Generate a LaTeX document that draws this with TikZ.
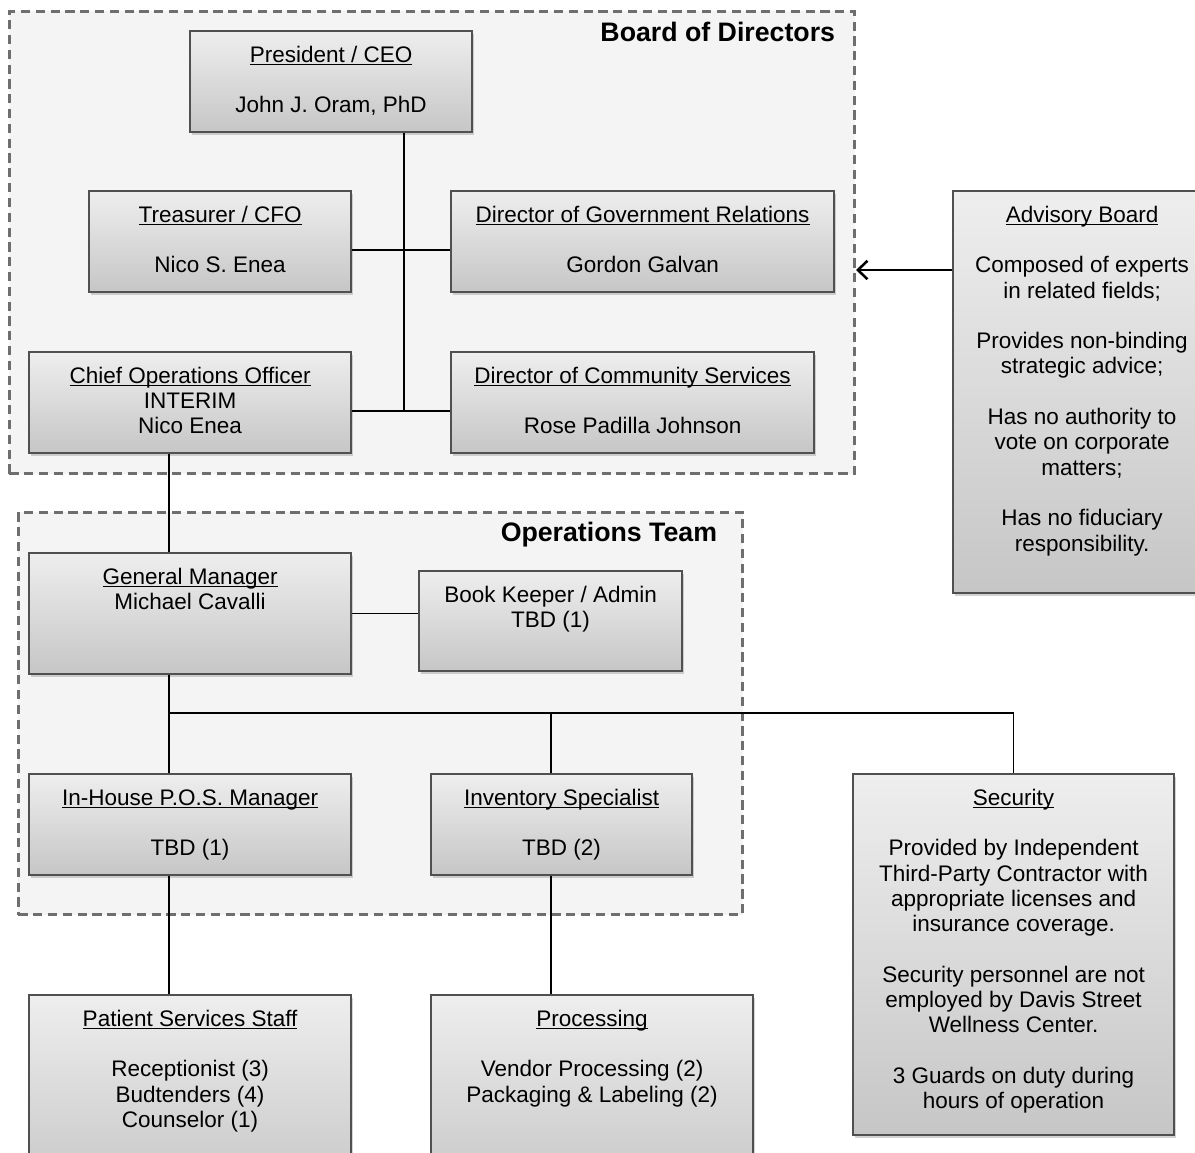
\documentclass[tikz,border=0pt]{standalone}
\usepackage{fontspec}
\setmainfont{Liberation Sans}
\usetikzlibrary{shadows,arrows.meta}

\definecolor{framefill}{HTML}{F4F4F4}
\definecolor{framedash}{HTML}{6E6E6E}
\definecolor{unitline}{HTML}{505050}
\definecolor{unittop}{HTML}{EEEEEE}
\definecolor{unitbottom}{HTML}{C6C6C6}

\newlength\unitpx
\setlength\unitpx{0.25mm}

\newsavebox\titlebox
\newcommand{\orgtitle}[1]{\sbox\titlebox{#1}\rlap{\rule[-2.2pt]{\wd\titlebox}{0.8pt}}\usebox\titlebox}
% box width, box height (in px), then the lines
\newcommand{\orgbox}[3]{\parbox[c][#2\unitpx][t]{#1\unitpx}{\centering\rule{0pt}{31\unitpx}#3}}
\newcommand{\skipline}{\\[\baselineskip]}

\begin{document}
\begin{tikzpicture}[x=0.025cm,y=-0.025cm,
    unit/.style={draw=unitline,line width=1.5pt,top color=unittop,bottom color=unitbottom,
      inner sep=0pt,anchor=north west,font=\fontsize{16}{18}\selectfont,
      drop shadow={shadow xshift=0.5mm,shadow yshift=-0.8mm,opacity=0.35}},
    frame/.style={draw=framedash,fill=framefill,line width=2pt,dash pattern=on 2.3mm off 1.4mm,
      inner sep=0pt,anchor=north west},
    frametitle/.style={anchor=east,font=\fontsize{19}{22}\selectfont\bfseries},
    link/.style={draw=black,line width=0.9pt},
    feed/.style={link,-{Straight Barb[length=2.4mm,width=4.6mm,line width=1.8pt]}}]
  \useasboundingbox (0,0) rectangle (1195,1152);
  \clip (0,0) rectangle (1195,1152);

  \node[frame,minimum width=845\unitpx,minimum height=462\unitpx] (board) at (8,10) {};
  \node[frame,minimum width=724\unitpx,minimum height=402\unitpx] (opsteam) at (17,511) {};
  \node[frametitle] (boardtitle) at (840,32) {Board of Directors};
  \node[frametitle] (opstitle) at (722,535) {Operations Team};

  % board
  \node[unit] (ceo) at (189,30) {\orgbox{282}{101}{\orgtitle{President / CEO}\skipline John J. Oram, PhD}};
  \node[unit] (cfo) at (88,190) {\orgbox{262}{101}{\orgtitle{Treasurer / CFO}\skipline Nico S. Enea}};
  \node[unit] (gov) at (450,190) {\orgbox{383}{101}{\orgtitle{Director of Government Relations}\skipline Gordon Galvan}};
  \node[unit] (coo) at (28,351) {\orgbox{322}{101}{\orgtitle{Chief Operations Officer}\\INTERIM\\Nico Enea}};
  \node[unit] (com) at (450,351) {\orgbox{363}{101}{\orgtitle{Director of Community Services}\skipline Rose Padilla Johnson}};
  \node[unit] (adv) at (952,190) {\orgbox{258}{402}{\orgtitle{Advisory Board}\skipline
    Composed of experts\\in related fields;\skipline
    Provides non-binding\\strategic advice;\skipline
    Has no authority to\\vote on corporate\\matters;\skipline
    Has no fiduciary\\responsibility.}};

  % operations
  \node[unit] (gm) at (28,552) {\orgbox{322}{121}{\orgtitle{General Manager}\\Michael Cavalli}};
  \node[unit] (bk) at (418,570) {\orgbox{263}{100}{Book Keeper / Admin\\TBD (1)}};
  \node[unit] (pos) at (28,773) {\orgbox{322}{101}{\orgtitle{In-House P.O.S. Manager}\skipline TBD (1)}};
  \node[unit] (inv) at (430,773) {\orgbox{261}{101}{\orgtitle{Inventory Specialist}\skipline TBD (2)}};
  \node[unit] (sec) at (852,773) {\orgbox{321}{361}{\orgtitle{Security}\skipline
    Provided by Independent\\Third-Party Contractor with\\appropriate licenses and\\insurance coverage.\skipline
    Security personnel are not\\employed by Davis Street\\Wellness Center.\skipline
    3 Guards on duty during\\hours of operation}};
  \node[unit] (pss) at (28,994) {\orgbox{322}{200}{\orgtitle{Patient Services Staff}\skipline
    Receptionist (3)\\Budtenders (4)\\Counselor (1)}};
  \node[unit] (proc) at (430,994) {\orgbox{322}{200}{\orgtitle{Processing}\skipline
    Vendor Processing (2)\\Packaging \& Labeling (2)}};

  \coordinate (bodspine) at (404,411);
  \coordinate (bodrow) at (404,250);
  \coordinate (advlink) at (900,270);
  \coordinate (opsspine) at (169,713);
  \coordinate (invdrop) at (551,713);

  \draw[link] (ceo.south -| bodspine) -- (bodspine);
  \draw[link] (cfo.east |- bodrow) -- (gov.west |- bodrow);
  \draw[link] (coo.east |- bodspine) -- (com.west |- bodspine);
  \draw[feed] (adv.west |- advlink) -- (board.east |- advlink);
  \draw[link] (coo.south -| opsspine) -- (gm.north -| opsspine);
  \draw[link] (gm.east) -- (gm.east -| bk.west);
  \draw[link] (gm.south -| opsspine) -- (pos.north -| opsspine);
  \draw[link] (opsspine) -| (sec.north);
  \draw[link] (invdrop) -- (inv.north -| invdrop);
  \draw[link] (pos.south -| opsspine) -- (pss.north -| opsspine);
  \draw[link] (inv.south -| invdrop) -- (proc.north -| invdrop);
\end{tikzpicture}
\end{document}
